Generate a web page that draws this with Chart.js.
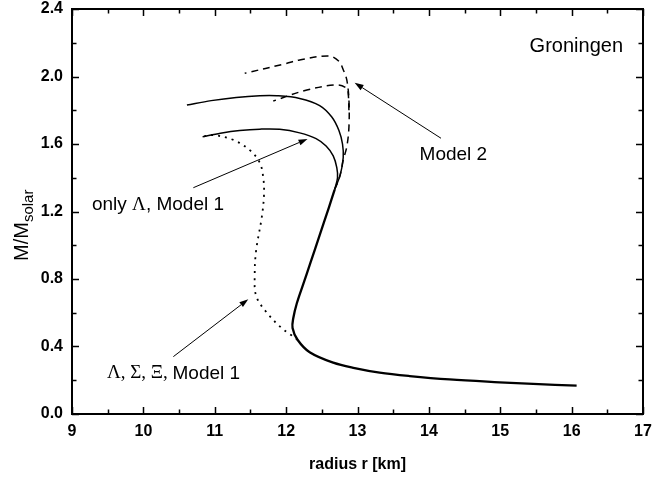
<!DOCTYPE html>
<html>
<head>
<meta charset="utf-8">
<script src="https://cdn.jsdelivr.net/npm/chart.js@4"></script>
<style>
  body { margin: 0; background: #fff; }
  #wrap { width: 654px; height: 477px; position: relative; }
</style>
</head>
<body>
<div id="wrap"><canvas id="myChart"></canvas></div>
<script>
// mass-radius curves, r in km, M in solar masses
const trunkR = [16.07, 15.46, 14.99, 14.29, 13.73, 13.31, 12.96, 12.66, 12.33, 12.16, 12.09, 12.10, 12.15, 12.24, 12.34, 12.47, 12.60, 12.68];
const trunkM = [0.168, 0.178, 0.188, 0.205, 0.225, 0.245, 0.272, 0.304, 0.366, 0.440, 0.510, 0.567, 0.656, 0.770, 0.895, 1.060, 1.225, 1.330];

const outerR = [12.68, 12.76, 12.80, 12.79, 12.74, 12.64, 12.47, 12.19, 11.87, 11.63, 11.30, 10.95, 10.61];
const outerM = [1.330, 1.420, 1.520, 1.600, 1.680, 1.760, 1.828, 1.870, 1.886, 1.886, 1.876, 1.857, 1.831];

const innerR = [12.68, 12.72, 12.71, 12.66, 12.56, 12.42, 12.19, 11.91, 11.63, 11.35, 11.08, 10.83];
const innerM = [1.330, 1.400, 1.460, 1.530, 1.588, 1.632, 1.666, 1.687, 1.688, 1.680, 1.664, 1.643];

const dashOuterR = [12.68, 12.75, 12.80, 12.85, 12.88, 12.88, 12.85, 12.80, 12.74, 12.60, 12.19, 12.00, 11.42];
const dashOuterM = [1.330, 1.406, 1.505, 1.584, 1.700, 1.860, 1.980, 2.040, 2.090, 2.122, 2.098, 2.077, 2.019];

const dashInnerR = [12.88, 12.87, 12.85, 12.71, 12.29, 11.82];
const dashInnerM = [1.800, 1.900, 1.930, 1.950, 1.920, 1.855];

const dotR = [12.16, 12.07, 11.94, 11.73, 11.58, 11.56, 11.58, 11.66, 11.69, 11.68, 11.63, 11.49, 11.26, 10.98, 10.83];
const dotM = [0.440, 0.468, 0.508, 0.600, 0.700, 0.830, 0.970, 1.170, 1.300, 1.400, 1.490, 1.564, 1.624, 1.653, 1.643];

const xTicks = [9, 10, 11, 12, 13, 14, 15, 16, 17];
const yTicks = [0.0, 0.4, 0.8, 1.2, 1.6, 2.0, 2.4];

const SANS = '"Liberation Sans", Arial, Helvetica, sans-serif';
const SERIF = '"Liberation Serif", "Times New Roman", serif';

function pts(rs, ms) {
  return rs.map((r, i) => ({x: r, y: ms[i]}));
}

function line(rs, ms, width, dash) {
  return {
    data: pts(rs, ms),
    showLine: true,
    borderColor: '#000',
    borderWidth: width,
    borderDash: dash || [],
    pointRadius: 0,
    tension: 0.35,
    fill: false
  };
}

// labels and arrows, placed in data coordinates
const notes = [
  {runs: [['Groningen', SANS]], r: 16.72, m: 2.18, align: 'right', size: 20},
  {runs: [['Model 2', SANS]], r: 13.87, m: 1.535, align: 'left', size: 19},
  {runs: [['only ', SANS], ['\u039B', SERIF], [', Model 1', SANS]], r: 9.28, m: 1.24, align: 'left', size: 19},
  {runs: [['\u039B, \u03A3, \u039E, ', SERIF], ['Model 1', SANS]], r: 9.49, m: 0.241, align: 'left', size: 19}
];
const arrows = [
  {from: [10.70, 1.341], to: [12.30, 1.630]},
  {from: [14.17, 1.634], to: [12.96, 1.963]},
  {from: [10.42, 0.340], to: [11.47, 0.680]}
];

const extras = {
  id: 'extras',
  afterDraw(chart) {
    const {ctx, chartArea: a, scales: {x, y}} = chart;
    ctx.save();
    ctx.strokeStyle = '#000';
    ctx.fillStyle = '#000';

    // inward ticks on all four sides
    ctx.lineWidth = 1.5;
    for (let v = 9; v <= 17.001; v += 0.5) {
      const px = Math.round(x.getPixelForValue(v)) + 0.5;
      const len = Math.abs(v - Math.round(v)) < 0.01 ? 7 : 4.5;
      ctx.beginPath();
      ctx.moveTo(px, a.bottom); ctx.lineTo(px, a.bottom - len);
      ctx.moveTo(px, a.top); ctx.lineTo(px, a.top + len);
      ctx.stroke();
    }
    for (let v = 0; v <= 2.4001; v += 0.2) {
      const py = Math.round(y.getPixelForValue(v)) + 0.5;
      const len = Math.abs(v / 0.4 - Math.round(v / 0.4)) < 0.01 ? 7 : 4.5;
      ctx.beginPath();
      ctx.moveTo(a.left, py); ctx.lineTo(a.left + len, py);
      ctx.moveTo(a.right, py); ctx.lineTo(a.right - len, py);
      ctx.stroke();
    }
    // frame
    ctx.lineWidth = 2;
    ctx.strokeRect(a.left, a.top, a.right - a.left, a.bottom - a.top);

    // notes
    ctx.textBaseline = 'middle';
    ctx.textAlign = 'left';
    notes.forEach(n => {
      let w = 0;
      n.runs.forEach(([t, f]) => { ctx.font = n.size + 'px ' + f; w += ctx.measureText(t).width; });
      let px = x.getPixelForValue(n.r);
      if (n.align === 'right') px -= w;
      const py = y.getPixelForValue(n.m);
      n.runs.forEach(([t, f]) => {
        ctx.font = n.size + 'px ' + f;
        ctx.fillText(t, px, py);
        px += ctx.measureText(t).width;
      });
    });

    // arrows
    ctx.lineWidth = 1;
    arrows.forEach(ar => {
      const x0 = x.getPixelForValue(ar.from[0]), y0 = y.getPixelForValue(ar.from[1]);
      const x1 = x.getPixelForValue(ar.to[0]), y1 = y.getPixelForValue(ar.to[1]);
      const ang = Math.atan2(y1 - y0, x1 - x0);
      const hl = 9, hw = 3;
      const bx = x1 - hl * Math.cos(ang), by = y1 - hl * Math.sin(ang);
      ctx.beginPath();
      ctx.moveTo(x0, y0); ctx.lineTo(bx, by);
      ctx.stroke();
      ctx.beginPath();
      ctx.moveTo(x1, y1);
      ctx.lineTo(bx + hw * Math.sin(ang), by - hw * Math.cos(ang));
      ctx.lineTo(bx - hw * Math.sin(ang), by + hw * Math.cos(ang));
      ctx.closePath();
      ctx.fill();
    });

    // axis titles
    ctx.textAlign = 'center';
    ctx.textBaseline = 'alphabetic';
    ctx.font = 'bold 16px ' + SANS;
    ctx.fillText('radius r [km]', (a.left + a.right) / 2, 469);

    ctx.translate(28, 261);
    ctx.rotate(-Math.PI / 2);
    ctx.textAlign = 'left';
    ctx.font = '20px ' + SANS;
    ctx.fillText('M/M', 0, 0);
    const mw = ctx.measureText('M/M').width;
    ctx.font = '15px ' + SANS;
    ctx.fillText('solar', mw, 5);
    ctx.restore();
  }
};

const config = {
  type: 'scatter',
  data: {
    datasets: [
      line(trunkR, trunkM, 2.3),
      line(outerR, outerM, 1.5),
      line(innerR, innerM, 1.5),
      line(dashOuterR, dashOuterM, 1.5, [7, 5]),
      line(dashInnerR, dashInnerM, 1.5, [7, 5]),
      line(dotR, dotM, 1.8, [2, 5])
    ]
  },
  options: {
    responsive: true,
    maintainAspectRatio: false,
    animation: false,
    layout: {padding: {top: 9, right: 11, left: 0, bottom: 0}},
    plugins: {
      legend: {display: false},
      tooltip: {enabled: false}
    },
    scales: {
      x: {
        type: 'linear',
        min: 9, max: 17,
        afterFit: s => { s.height = 63; s.paddingLeft = 0; s.paddingRight = 0; },
        afterBuildTicks: s => { s.ticks = xTicks.map(v => ({value: v})); },
        grid: {display: false, drawTicks: false},
        border: {display: false},
        ticks: {
          color: '#000',
          padding: 8,
          font: {family: SANS, size: 16, weight: 'bold'},
          callback: v => String(v)
        }
      },
      y: {
        type: 'linear',
        min: 0, max: 2.4,
        afterFit: s => { s.width = 72; s.paddingTop = 0; s.paddingBottom = 0; },
        afterBuildTicks: s => { s.ticks = yTicks.map(v => ({value: v})); },
        grid: {display: false, drawTicks: false},
        border: {display: false},
        ticks: {
          color: '#000',
          padding: 9,
          font: {family: SANS, size: 16, weight: 'bold'},
          callback: v => Number(v).toFixed(1)
        }
      }
    }
  },
  plugins: [extras]
};

new Chart(document.getElementById('myChart'), config);
</script>
</body>
</html>
